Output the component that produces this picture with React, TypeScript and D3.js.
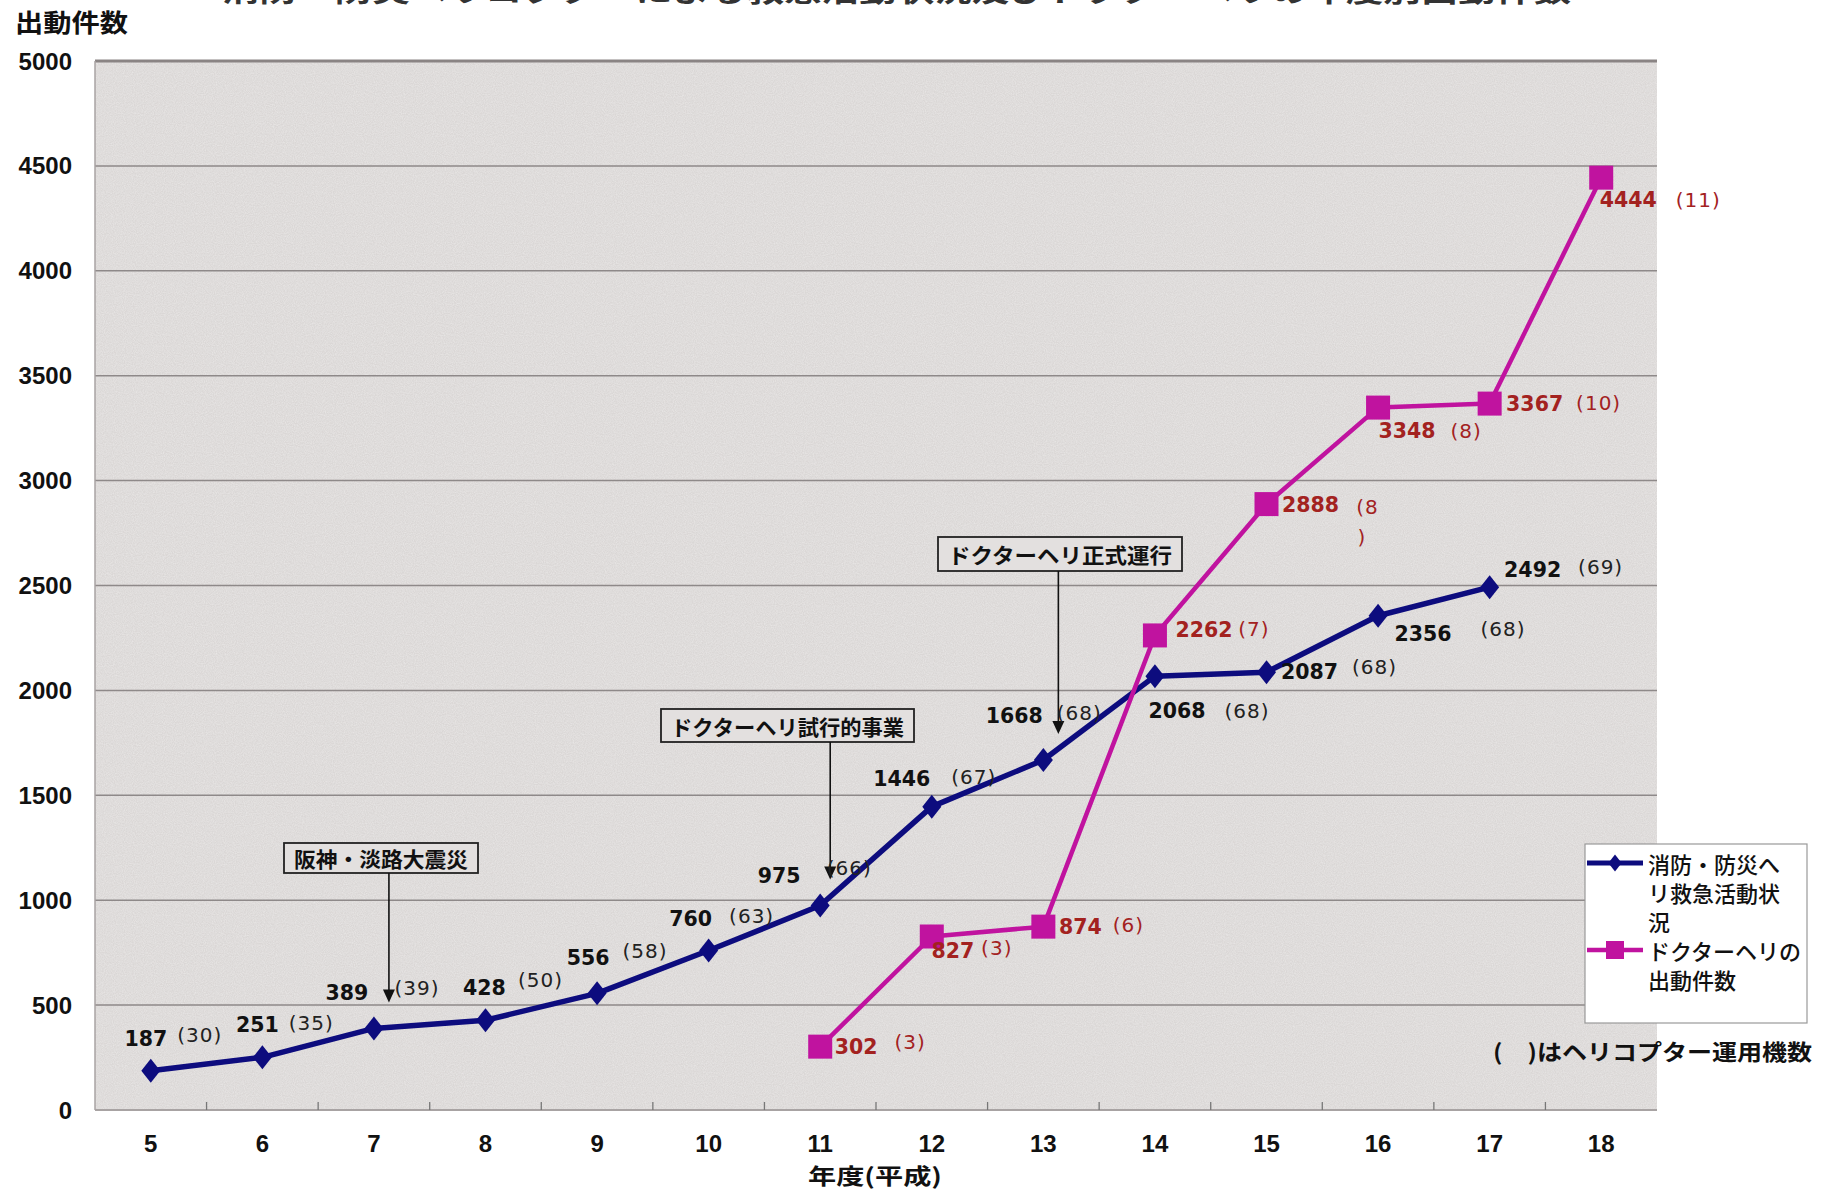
import React from "react";
import * as d3 from "d3";

// ---------- data ----------
const years = ["5", "6", "7", "8", "9", "10", "11", "12", "13", "14", "15", "16", "17", "18"];
const yTicks = [0, 500, 1000, 1500, 2000, 2500, 3000, 3500, 4000, 4500, 5000];

const fireHeliYears = ["5", "6", "7", "8", "9", "10", "11", "12", "13", "14", "15", "16", "17"];
const fireHeliValues = [187, 251, 389, 428, 556, 760, 975, 1446, 1668, 2068, 2087, 2356, 2492];
const fireHeliUnits = ["(30)", "(35)", "(39)", "(50)", "(58)", "(63)", "(66)", "(67)", "(68)", "(68)", "(68)", "(68)", "(69)"];

const doctorHeliYears = ["11", "12", "13", "14", "15", "16", "17", "18"];
const doctorHeliValues = [302, 827, 874, 2262, 2888, 3348, 3367, 4444];
const doctorHeliUnits = ["(3)", "(3)", "(6)", "(7)", "(8)", "(8)", "(10)", "(11)"];

const seriesNames = ["消防・防災ヘリ救急活動状況", "ドクターヘリの出動件数"];
const legendLines = [["消防・防災へ", "リ救急活動状", "況"], ["ドクターヘリの", "出動件数"]];

const annotationLabels = ["阪神・淡路大震災", "ドクターヘリ試行的事業", "ドクターヘリ正式運行"];
const annotationYears = ["7", "11", "13"];

const titleText = "消防・防災ヘリコプターによる救急活動状況及びドクターヘリの年度別出動件数";
const yAxisTitle = "出動件数";
const xAxisTitle = "年度(平成)";
const noteText = "(　)はヘリコプター運用機数";

// ---------- layout (pixels) ----------
const W = 1832;
const H = 1189;
const PLOT = { left: 95, right: 1657, top: 61, bottom: 1110 };

const fireValueOff = [[-5, -32], [-5, -32], [-27, -35], [-1, -32], [-9, -35], [-18, -32], [-41, -29], [-30, -28], [-29, -44], [22, 35], [43, 0], [45, 18], [43, -17]];
const fireUnitOff = [[49, -36], [49, -34], [43, -40], [55, -40], [48, -42], [43, -35], [29, -37], [42, -30], [36, -47], [92, 35], [108, -5], [125, 13], [111, -20]];
const docValueOff = [[36, 0], [21, 15], [37, 0], [49, -5], [44, 1], [29, 23], [45, 0], [27, 22]];
const docUnitOff = [[90, -5], [65, 12], [85, -2], [99, -6], [101, 3], [88, 23], [109, -1], [97, 22]];

const annBoxes = [
  { x0: 284, x1: 478, y0: 843, y1: 873, arrowDx: 15 },
  { x0: 661, x1: 914, y0: 709, y1: 742, arrowDx: 10 },
  { x0: 938, x1: 1182, y0: 537, y1: 571, arrowDx: 15 },
];

const NAVY = "#0d0c7e";
const MAGENTA = "#c0139f";
const DARKRED = "#a3221f";
const BG = "#dad7d6";
const GRID = "#8e8989";

const NUM_FONT = "'DejaVu Sans', 'Liberation Sans', sans-serif";
const AX_FONT = "'Liberation Sans', Arial, sans-serif";
const JP_FONT = "'Noto Sans CJK JP', 'Noto Sans', sans-serif";

export default function App() {
  const x = d3.scaleBand<string>().domain(years).range([PLOT.left, PLOT.right]).padding(0);
  const y = d3.scaleLinear().domain([0, 5000]).range([PLOT.bottom, PLOT.top]);
  const cx = (yr: string) => (x(yr) as number) + x.bandwidth() / 2;

  const fireData = fireHeliYears.map((yr, i) => ({ yr, v: fireHeliValues[i], u: fireHeliUnits[i] }));
  const docData = doctorHeliYears.map((yr, i) => ({ yr, v: doctorHeliValues[i], u: doctorHeliUnits[i] }));

  const line = d3
    .line<{ yr: string; v: number }>()
    .x((d) => cx(d.yr))
    .y((d) => y(d.v));

  const diamond = (px: number, py: number, s = 1) =>
    `M${px},${py - 12 * s}L${px + 9.5 * s},${py}L${px},${py + 12 * s}L${px - 9.5 * s},${py}Z`;
  const SQ = 24;

  return (
    <svg
      width={W}
      height={H}
      viewBox={`0 0 ${W} ${H}`}
      style={{ position: "absolute", left: 0, top: 0, background: "#fff" }}
    >
      <defs>
        <filter id="paper" x="0" y="0" width="100%" height="100%">
          <feTurbulence type="fractalNoise" baseFrequency="0.9" numOctaves="2" seed="3" result="n" />
          <feColorMatrix
            in="n"
            type="matrix"
            values="0 0 0 0 1  0 0 0 0 1  0 0 0 0 1  0 0 0 0.5 -0.12"
            result="w"
          />
          <feComposite in="w" in2="SourceGraphic" operator="in" result="wm" />
          <feMerge>
            <feMergeNode in="SourceGraphic" />
            <feMergeNode in="wm" />
          </feMerge>
        </filter>
      </defs>

      {/* title, clipped at the top edge as in the source scan */}
      <text
        x={222}
        y={2}
        fontFamily={JP_FONT}
        fontWeight={700}
        fontSize={28}
        fill="#333"
        textLength={1349}
        lengthAdjust="spacingAndGlyphs"
      >
        {titleText}
      </text>

      {/* plot background */}
      <rect
        x={PLOT.left}
        y={PLOT.top}
        width={PLOT.right - PLOT.left}
        height={PLOT.bottom - PLOT.top}
        fill={BG}
        filter="url(#paper)"
      />

      {/* gridlines */}
      {yTicks.map((t) => (
        <line
          key={"g" + t}
          x1={PLOT.left}
          x2={PLOT.right}
          y1={y(t)}
          y2={y(t)}
          stroke={t === 5000 ? "#8a8484" : GRID}
          strokeWidth={t === 5000 ? 3 : 1.5}
        />
      ))}
      <line x1={PLOT.left} x2={PLOT.left} y1={PLOT.top} y2={PLOT.bottom} stroke="#a8a3a3" strokeWidth={1.5} />
      <line x1={PLOT.left} x2={PLOT.right} y1={PLOT.bottom} y2={PLOT.bottom} stroke="#a8a3a3" strokeWidth={2} />

      {/* x ticks at band boundaries */}
      {years.slice(1).map((yr) => (
        <line
          key={"xt" + yr}
          x1={x(yr) as number}
          x2={x(yr) as number}
          y1={PLOT.bottom}
          y2={PLOT.bottom - 8}
          stroke="#777"
          strokeWidth={1.3}
        />
      ))}

      {/* y tick labels */}
      {yTicks.map((t) => (
        <text
          key={"yl" + t}
          x={72}
          y={y(t)}
          textAnchor="end"
          dominantBaseline="central"
          fontFamily={AX_FONT}
          fontWeight={700}
          fontSize={24}
          fill="#111"
        >
          {t}
        </text>
      ))}

      {/* x tick labels */}
      {years.map((yr) => (
        <text
          key={"xl" + yr}
          x={cx(yr)}
          y={1143}
          textAnchor="middle"
          dominantBaseline="central"
          fontFamily={AX_FONT}
          fontWeight={700}
          fontSize={24}
          fill="#111"
        >
          {yr}
        </text>
      ))}

      {/* axis titles */}
      <text
        x={15}
        y={21}
        dominantBaseline="central"
        fontFamily={JP_FONT}
        fontWeight={700}
        fontSize={25}
        fill="#111"
        textLength={113}
        lengthAdjust="spacingAndGlyphs"
      >
        {yAxisTitle}
      </text>
      <text
        x={808}
        y={1184}
        fontFamily={JP_FONT}
        fontWeight={700}
        fontSize={22}
        fill="#111"
        textLength={134}
        lengthAdjust="spacingAndGlyphs"
      >
        {xAxisTitle}
      </text>

      {/* annotations */}
      {annotationLabels.map((lab, i) => {
        const b = annBoxes[i];
        const yr = annotationYears[i];
        const fi = fireHeliYears.indexOf(yr);
        const ax = cx(yr) + b.arrowDx;
        const tipY = y(fireHeliValues[fi]) - 26;
        return (
          <g key={"ann" + i}>
            <rect
              x={b.x0}
              y={b.y0}
              width={b.x1 - b.x0}
              height={b.y1 - b.y0}
              fill="#e3e0df"
              stroke="#222"
              strokeWidth={1.8}
            />
            <text
              x={(b.x0 + b.x1) / 2}
              y={(b.y0 + b.y1) / 2}
              textAnchor="middle"
              dominantBaseline="central"
              fontFamily={JP_FONT}
              fontWeight={700}
              fontSize={21}
              fill="#111"
              textLength={b.x1 - b.x0 - 20}
              lengthAdjust="spacingAndGlyphs"
            >
              {lab}
            </text>
            <line x1={ax} x2={ax} y1={b.y1} y2={tipY - 12} stroke="#111" strokeWidth={1.6} />
            <path d={`M${ax - 6},${tipY - 13}L${ax + 6},${tipY - 13}L${ax},${tipY}Z`} fill="#111" />
          </g>
        );
      })}

      {/* fire/disaster heli series */}
      <path d={line(fireData) || ""} fill="none" stroke={NAVY} strokeWidth={5.5} strokeLinejoin="round" />
      {/* doctor heli series */}
      <path d={line(docData) || ""} fill="none" stroke={MAGENTA} strokeWidth={4.5} strokeLinejoin="round" />

      {fireData.map((d) => (
        <path key={"fm" + d.yr} d={diamond(cx(d.yr), y(d.v))} fill={NAVY} />
      ))}
      {docData.map((d) => (
        <rect key={"dm" + d.yr} x={cx(d.yr) - SQ / 2} y={y(d.v) - SQ / 2} width={SQ} height={SQ} fill={MAGENTA} />
      ))}

      {/* fire labels */}
      {fireData.map((d, i) => (
        <g key={"fl" + d.yr}>
          <text
            x={cx(d.yr) + fireValueOff[i][0]}
            y={y(d.v) + fireValueOff[i][1]}
            textAnchor="middle"
            dominantBaseline="central"
            fontFamily={NUM_FONT}
            fontWeight={700}
            fontSize={20.5}
            fill="#111"
          >
            {d.v}
          </text>
          <text
            x={cx(d.yr) + fireUnitOff[i][0]}
            y={y(d.v) + fireUnitOff[i][1]}
            textAnchor="middle"
            dominantBaseline="central"
            fontFamily={NUM_FONT}
            fontSize={20}
            letterSpacing={1}
            fill="#222"
          >
            {d.u}
          </text>
        </g>
      ))}

      {/* doctor labels */}
      {docData.map((d, i) => {
        const wrap = d.yr === "15";
        const ux = cx(d.yr) + docUnitOff[i][0];
        const uy = y(d.v) + docUnitOff[i][1];
        return (
          <g key={"dl" + d.yr}>
            <text
              x={cx(d.yr) + docValueOff[i][0]}
              y={y(d.v) + docValueOff[i][1]}
              textAnchor="middle"
              dominantBaseline="central"
              fontFamily={NUM_FONT}
              fontWeight={700}
              fontSize={20.5}
              fill={DARKRED}
            >
              {d.v}
            </text>
            {wrap ? (
              <>
                <text x={ux} y={uy} textAnchor="middle" dominantBaseline="central" fontFamily={NUM_FONT} fontSize={20} letterSpacing={1} fill={DARKRED}>
                  {d.u.slice(0, -1)}
                </text>
                <text x={ux - 6} y={uy + 30} textAnchor="middle" dominantBaseline="central" fontFamily={NUM_FONT} fontSize={20} fill={DARKRED}>
                  {d.u.slice(-1)}
                </text>
              </>
            ) : (
              <text x={ux} y={uy} textAnchor="middle" dominantBaseline="central" fontFamily={NUM_FONT} fontSize={20} letterSpacing={1} fill={DARKRED}>
                {d.u}
              </text>
            )}
          </g>
        );
      })}

      {/* legend */}
      <g>
        <rect x={1585} y={844} width={222} height={179} fill="#fff" stroke="#999" strokeWidth={1.2} />
        {seriesNames.map((name, si) => {
          const lines = legendLines[si];
          const top = si === 0 ? 863 : 950;
          const color = si === 0 ? NAVY : MAGENTA;
          return (
            <g key={"lg" + si}>
              <title>{name}</title>
              <line x1={1587} x2={1643} y1={top} y2={top} stroke={color} strokeWidth={si === 0 ? 5 : 4.5} />
              {si === 0 ? (
                <path d={diamond(1615, top, 0.7)} fill={color} />
              ) : (
                <rect x={1615 - 9} y={top - 9} width={18} height={18} fill={color} />
              )}
              {lines.map((l, li) => (
                <text
                  key={li}
                  x={1648}
                  y={top + li * 29}
                  dominantBaseline="central"
                  fontFamily={JP_FONT}
                  fontWeight={500}
                  fontSize={22}
                  fill="#111"
                >
                  {l}
                </text>
              ))}
            </g>
          );
        })}
      </g>

      {/* note */}
      <text
        x={1493}
        y={1050}
        dominantBaseline="central"
        fontFamily={JP_FONT}
        fontWeight={700}
        fontSize={22}
        fill="#111"
        textLength={319}
        lengthAdjust="spacingAndGlyphs"
      >
        {noteText}
      </text>
    </svg>
  );
}
